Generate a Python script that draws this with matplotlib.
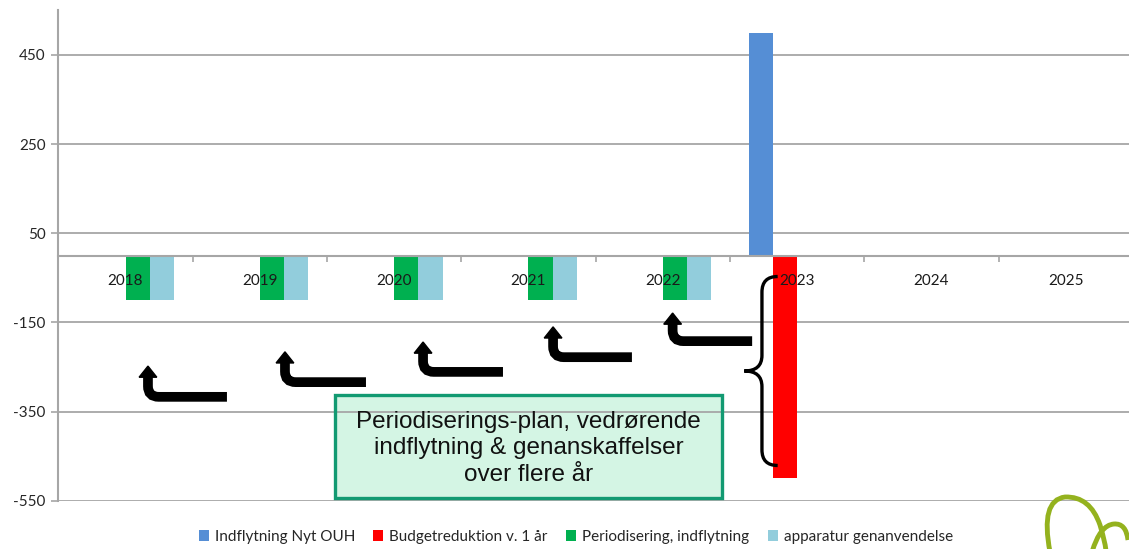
import numpy as np
import matplotlib
matplotlib.use("Agg")
import matplotlib.pyplot as plt
from matplotlib.path import Path
from matplotlib.patches import PathPatch, Polygon, Rectangle

# data
years = ["2018", "2019", "2020", "2021", "2022", "2023", "2024", "2025"]
indflytning = [0, 0, 0, 0, 0, 500, 0, 0]
budgetreduktion = [0, 0, 0, 0, 0, -500, 0, 0]
periodisering = [-100, -100, -100, -100, -100, 0, 0, 0]
apparatur = [-100, -100, -100, -100, -100, 0, 0, 0]
series_names = ["Indflytning Nyt OUH", "Budgetreduktion v. 1 år",
                "Periodisering, indflytning", "apparatur genanvendelse"]
series_colors = ["#558ED5", "#FF0000", "#00B050", "#92CDDC"]
y_ticks = [450, 250, 50, -150, -350, -550]

# bent arrows: (stem x, tip y, bar y, right end x) in data units
arrows = [(0.167, -248, -317, 0.755),
          (1.187, -216, -284, 1.790),
          (2.215, -194, -261, 2.810),
          (3.183, -160, -228, 3.770),
          (4.073, -129, -192, 4.665)]

plt.rcParams["font.family"] = ["Lato", "DejaVu Sans"]

fig = plt.figure(figsize=(11.29, 5.49), dpi=100)
ax = fig.add_axes([0.0517, 0.088, 0.9518, 0.893])

x = np.arange(len(years))
w = 0.18
all_series = [indflytning, budgetreduktion, periodisering, apparatur]
handles = []
for i, (vals, name, col) in enumerate(zip(all_series, series_names, series_colors)):
    b = ax.bar(x + (i - 1.5) * w, vals, width=w, color=col, label=name, zorder=1)
    handles.append(b)

ax.set_xlim(-0.5, len(years) - 0.5)
ax.set_ylim(-550, 550)

grid_col = "#A6A6A6"
for t in y_ticks:
    ax.axhline(t, color=grid_col, lw=1.3, zorder=0.5)

ax.set_yticks(y_ticks)
ax.set_yticklabels([str(t) for t in y_ticks])
ax.tick_params(axis="y", length=5, width=1.2, color=grid_col, labelsize=11,
               labelcolor="#262626", pad=4)

# category axis at zero
ax.spines["top"].set_visible(False)
ax.spines["right"].set_visible(False)
ax.spines["bottom"].set_position(("data", 0))
ax.spines["bottom"].set_color(grid_col)
ax.spines["bottom"].set_linewidth(1.5)
ax.spines["left"].set_color(grid_col)
ax.spines["left"].set_linewidth(1.5)
ax.set_xticks(np.arange(len(years) + 1) - 0.5)
ax.set_xticklabels([])
ax.set_xticks(x, minor=True)
ax.set_xticklabels(years, minor=True)
ax.tick_params(axis="x", which="major", length=4, width=1.2, color=grid_col, direction="out")
ax.tick_params(axis="x", which="minor", length=0, labelsize=11, labelcolor="#1a1a1a", pad=13)
ax.set_axisbelow(False)

# bent arrows
rx, ry = 0.08, 24
hw, hh = 0.066, 25
for xs, ytip, yb, xr in arrows:
    verts = [(xr, yb), (xs + rx, yb), (xs, yb), (xs, yb + ry), (xs, ytip - hh + 2)]
    codes = [Path.MOVETO, Path.LINETO, Path.CURVE3, Path.CURVE3, Path.LINETO]
    ax.add_patch(PathPatch(Path(verts, codes), fill=False, lw=7, color="black",
                           capstyle="butt", zorder=5))
    ax.add_patch(Polygon([(xs - hw, ytip - hh), (xs + hw, ytip - hh), (xs, ytip)],
                         closed=True, color="black", zorder=5))

# curly brace
xe, xm, xt = 4.855, 4.738, 4.607
yt, ymid, ybt = -47, -259, -471
bry = 35
verts = [(xe, yt), (xm, yt), (xm, yt - bry),
         (xm, ymid + bry), (xm, ymid), (xt, ymid),
         (xm, ymid), (xm, ymid - bry),
         (xm, ybt + bry), (xm, ybt), (xe, ybt)]
codes = [Path.MOVETO, Path.CURVE3, Path.CURVE3,
         Path.LINETO, Path.CURVE3, Path.CURVE3,
         Path.CURVE3, Path.CURVE3,
         Path.LINETO, Path.CURVE3, Path.CURVE3]
ax.add_patch(PathPatch(Path(verts, codes), fill=False, lw=2.4, color="black", zorder=5))

# text box
ax.add_patch(Rectangle((1.561, -543.8), 4.439 - 1.561, 543.8 - 312.7,
                       facecolor="#D4F5E4", edgecolor="none", zorder=0.3))
ax.add_patch(Rectangle((1.561, -543.8), 4.439 - 1.561, 543.8 - 312.7,
                       facecolor="none", edgecolor="#129A72", lw=2.4, zorder=4))
ax.text(3.0, -432, "Periodiserings-plan, vedrørende\nindflytning & genanskaffelser\nover flere år",
        ha="center", va="center", fontsize=17.5, family="Liberation Sans",
        linespacing=1.27, color="#111111", zorder=6)

# legend
leg = fig.legend(handles=handles, loc="center", bbox_to_anchor=(0.51, 0.022), ncol=4,
                 frameon=False, fontsize=11, handlelength=0.65, handleheight=0.65,
                 handletextpad=0.4, columnspacing=1.2, labelcolor="#262626")

# logo swirl in corner
lax = fig.add_axes([0, 0, 1, 1], zorder=10)
lax.set_xlim(0, 1129)
lax.set_ylim(549, 0)
lax.axis("off")
logo_col = "#94B21E"
p1 = Path([(1050, 552), (1040, 500), (1065, 497), (1090, 496), (1100, 525), (1106, 545), (1106, 552)],
          [Path.MOVETO, Path.CURVE3, Path.CURVE3, Path.CURVE3, Path.CURVE3, Path.CURVE3, Path.CURVE3])
p2 = Path([(1092, 552), (1100, 525), (1114, 524), (1126, 523), (1128, 540)],
          [Path.MOVETO, Path.CURVE3, Path.CURVE3, Path.CURVE3, Path.CURVE3])
for p in (p1, p2):
    lax.add_patch(PathPatch(p, fill=False, lw=3.5, color=logo_col))

fig.savefig("out.png", dpi=100)
